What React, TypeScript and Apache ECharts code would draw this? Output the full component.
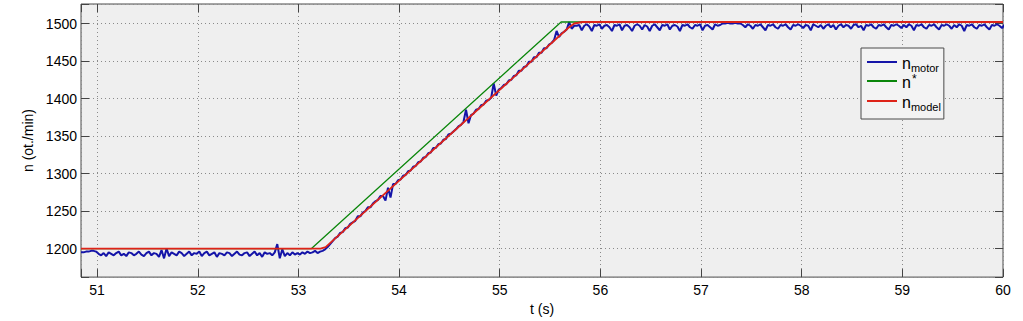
import React, { useEffect, useRef } from "react";
import * as echarts from "echarts";

const FONT = '"Liberation Sans", Arial, Helvetica, sans-serif';

// axis ranges and tick labels
const X_MIN = 50.84;
const X_MAX = 60;
const Y_MIN = 1162;
const Y_MAX = 1526;
const X_TICKS = [51, 52, 53, 54, 55, 56, 57, 58, 59, 60];
const Y_TICKS = [1200, 1250, 1300, 1350, 1400, 1450, 1500];

// measured motor speed, sampled every TIME_STEP seconds from TIME_START
const TIME_START = 50.84;
const TIME_STEP = 0.025;
const N_MOTOR = [
  1195, 1195, 1196, 1196, 1197, 1197, 1196,
  1193, 1191, 1194, 1190, 1195, 1193, 1191, 1194, 1196, 1191,
  1193, 1190, 1195, 1194, 1191, 1193, 1196, 1192, 1190, 1194,
  1196, 1191, 1194, 1193, 1189, 1198, 1187, 1200, 1190, 1195,
  1193, 1191, 1196, 1194, 1190, 1193, 1196, 1191, 1194, 1193,
  1196, 1190, 1194, 1196, 1191, 1193, 1195, 1189, 1194, 1193,
  1191, 1195, 1194, 1190, 1193, 1196, 1192, 1191, 1194, 1195,
  1190, 1193, 1196, 1191, 1194, 1189, 1195, 1193, 1194, 1191,
  1195, 1206, 1187, 1199, 1190, 1194, 1191, 1195, 1192, 1194,
  1192, 1195, 1193, 1196, 1194, 1195, 1197, 1194, 1196, 1197,
  1199, 1202, 1206, 1210, 1214, 1216, 1221, 1222, 1227, 1228,
  1233, 1235, 1237, 1243, 1243, 1248, 1250, 1255, 1255, 1260,
  1263, 1265, 1270, 1270, 1264, 1281, 1268, 1286, 1286, 1291,
  1292, 1297, 1298, 1303, 1304, 1309, 1310, 1315, 1316, 1321,
  1322, 1327, 1328, 1334, 1334, 1339, 1340, 1345, 1346, 1352,
  1353, 1356, 1359, 1363, 1365, 1369, 1385, 1367, 1378, 1380,
  1385, 1386, 1391, 1392, 1397, 1398, 1401, 1420, 1404, 1412,
  1414, 1418, 1419, 1424, 1425, 1430, 1431, 1437, 1437, 1442,
  1443, 1449, 1449, 1455, 1455, 1461, 1461, 1467, 1467, 1472,
  1474, 1478, 1490, 1482, 1487, 1489, 1492, 1502, 1493, 1497,
  1497, 1498, 1491, 1497, 1499, 1496, 1490, 1498, 1497, 1499,
  1493, 1497, 1498, 1495, 1490, 1498, 1497, 1499, 1491, 1497,
  1498, 1495, 1490, 1497, 1499, 1497, 1492, 1498, 1496, 1490,
  1497, 1499, 1495, 1491, 1498, 1497, 1499, 1492, 1497, 1498,
  1496, 1490, 1498, 1497, 1499, 1495, 1493, 1498, 1497, 1499,
  1491, 1497, 1498, 1495, 1492, 1499, 1497, 1498, 1500, 1500,
  1501, 1500, 1500, 1501, 1500, 1500, 1498, 1495, 1499, 1497,
  1493, 1498, 1497, 1499, 1495, 1491, 1498, 1497, 1499, 1495,
  1493, 1498, 1497, 1499, 1495, 1492, 1498, 1497, 1499, 1497,
  1494, 1498, 1497, 1491, 1499, 1497, 1495, 1498, 1493, 1497,
  1499, 1495, 1498, 1492, 1497, 1499, 1495, 1498, 1497, 1493,
  1498, 1499, 1495, 1497, 1491, 1498, 1497, 1499, 1495, 1493,
  1498, 1497, 1499, 1495, 1492, 1498, 1497, 1499, 1497, 1494,
  1498, 1495, 1499, 1497, 1491, 1498, 1497, 1499, 1495, 1493,
  1498, 1497, 1499, 1495, 1492, 1498, 1497, 1499, 1497, 1493,
  1498, 1495, 1499, 1497, 1490, 1498, 1497, 1499, 1495, 1493,
  1498, 1497, 1499, 1495, 1492, 1498, 1497, 1499, 1497, 1494, 1498,
];

// reference speed n*
const N_REF_T = [50.84, 53.13, 55.61, 60];
const N_REF_V = [1200, 1200, 1502, 1502];

// model speed
const N_MODEL_T = [50.84, 53.22, 53.27, 55.68, 55.74, 55.82, 60];
const N_MODEL_V = [1200, 1200, 1202, 1494, 1500, 1502, 1502];

const SERIES_NAMES = ["n_motor", "n*", "n_model"];

const isTick = (v: number, list: number[]) =>
  list.some((t) => Math.abs(t - v) < 1e-6);

export default function App() {
  const ref = useRef<HTMLDivElement>(null);

  useEffect(() => {
    if (!ref.current) return;
    const chart = echarts.init(ref.current, undefined, { renderer: "svg" });

    const motorData = N_MOTOR.map((v, i) => [
      +(TIME_START + i * TIME_STEP).toFixed(3),
      v,
    ]);
    const refData = N_REF_T.map((t, i) => [t, N_REF_V[i]]);
    const modelData = N_MODEL_T.map((t, i) => [t, N_MODEL_V[i]]);

    const tickStyle = { inside: true, length: 8, lineStyle: { color: "#444", width: 1 } };
    const splitStyle = {
      show: true,
      lineStyle: { color: "#8a8a8a", width: 1, type: [1, 3] as any },
    };

    chart.setOption({
      animation: false,
      backgroundColor: "#ffffff",
      grid: {
        left: 81,
        right: 20,
        top: 4,
        bottom: 40,
        show: true,
        backgroundColor: "#efefef",
        borderColor: "#4a4a4a",
        borderWidth: 1,
        containLabel: false,
      },
      legend: {
        orient: "vertical",
        left: 861,
        top: 48,
        padding: [6, 3, 7, 6],
        itemGap: 0,
        itemWidth: 30,
        itemHeight: 2,
        icon: "rect",
        backgroundColor: "#f3f3f3",
        borderColor: "#4a4a4a",
        borderWidth: 1,
        data: SERIES_NAMES,
        selectedMode: false,
        formatter: (name: string) => {
          if (name === "n_motor") return "{b|n}{s|motor}";
          if (name === "n*") return "{b|n}{p|*}";
          return "{b|n}{s|model}";
        },
        textStyle: {
          fontFamily: FONT,
          color: "#000",
          rich: {
            b: { fontSize: 16, fontFamily: FONT, color: "#000", lineHeight: 16, verticalAlign: "top", padding: [1, 0, 0, 0] },
            s: { fontSize: 11, fontFamily: FONT, color: "#000", lineHeight: 12, verticalAlign: "top", padding: [8, 0, 0, 0] },
            p: { fontSize: 12, fontFamily: FONT, color: "#000", lineHeight: 12, verticalAlign: "top", padding: [0, 0, 8, 1] },
          },
        },
      },
      xAxis: [
        {
          type: "value",
          min: X_MIN,
          max: X_MAX,
          splitNumber: 9,
          name: "t (s)",
          nameLocation: "middle",
          nameGap: 20,
          nameTextStyle: { fontFamily: FONT, fontSize: 14, color: "#000" },
          axisLine: { show: false },
          axisTick: tickStyle,
          axisLabel: {
            fontFamily: FONT,
            fontSize: 14,
            color: "#000",
            margin: 6,
            formatter: (v: number) => (isTick(v, X_TICKS) ? String(Math.round(v)) : ""),
          },
          splitLine: splitStyle,
        },
        {
          type: "value",
          position: "top",
          min: X_MIN,
          max: X_MAX,
          splitNumber: 9,
          axisLine: { show: false },
          axisTick: tickStyle,
          axisLabel: { show: false },
          splitLine: { show: false },
        },
      ],
      yAxis: [
        {
          type: "value",
          min: Y_MIN,
          max: Y_MAX,
          splitNumber: 7,
          name: "n (ot./min)",
          nameLocation: "middle",
          nameGap: 41,
          nameTextStyle: { fontFamily: FONT, fontSize: 14, color: "#000" },
          axisLine: { show: false },
          axisTick: tickStyle,
          axisLabel: {
            fontFamily: FONT,
            fontSize: 14,
            color: "#000",
            margin: 4,
            formatter: (v: number) => (isTick(v, Y_TICKS) ? String(Math.round(v)) : ""),
          },
          splitLine: splitStyle,
        },
        {
          type: "value",
          position: "right",
          min: Y_MIN,
          max: Y_MAX,
          splitNumber: 7,
          axisLine: { show: false },
          axisTick: tickStyle,
          axisLabel: { show: false },
          splitLine: { show: false },
        },
      ],
      series: [
        {
          name: "n_motor",
          type: "line",
          data: motorData,
          symbol: "none",
          showSymbol: false,
          color: "#1414a8",
          lineStyle: { color: "#1414a8", width: 2 },
          z: 2,
        },
        {
          name: "n*",
          type: "line",
          data: refData,
          symbol: "none",
          showSymbol: false,
          color: "#0a860a",
          lineStyle: { color: "#0a860a", width: 1.3 },
          z: 3,
        },
        {
          name: "n_model",
          type: "line",
          data: modelData,
          symbol: "none",
          showSymbol: false,
          color: "#de2318",
          lineStyle: { color: "#de2318", width: 1.8 },
          z: 4,
        },
      ],
    });

    return () => chart.dispose();
  }, []);

  return (
    <div
      ref={ref}
      style={{ position: "fixed", left: 0, top: 0, width: 1023, height: 321, background: "#fff" }}
    />
  );
}
